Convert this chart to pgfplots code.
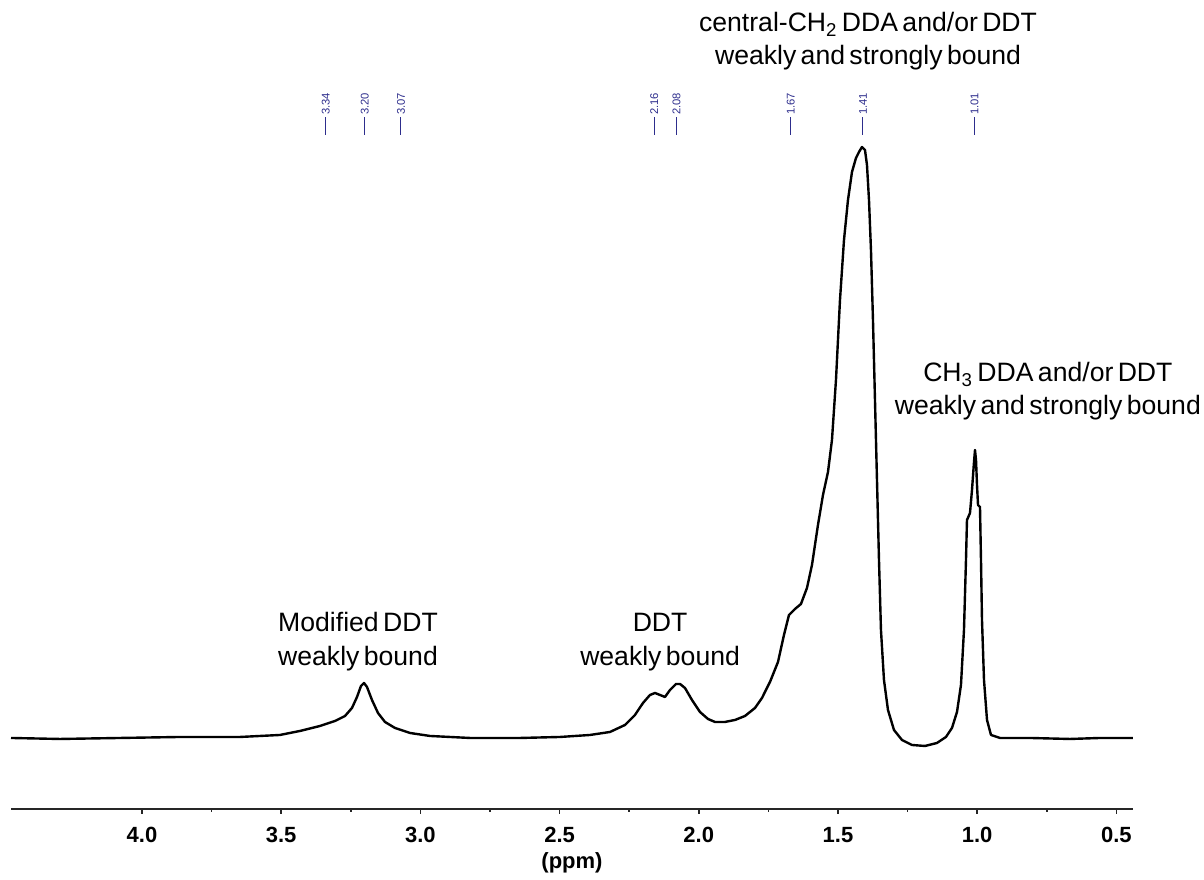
\documentclass[border=0pt]{standalone}
\usepackage{fontspec}
\setmainfont{Liberation Sans}
\usepackage{pgfplots}
\pgfplotsset{compat=1.18}
\definecolor{peakblue}{RGB}{45,45,140}
\pgfplotstableread{
x I
4.4705 71
4.2945 70
4.0790 71
3.8635 72
3.6480 72
3.5043 74
3.4325 78
3.3606 83
3.3067 88
3.2708 93
3.2457 101
3.2277 112
3.2134 123
3.2026 126
3.1918 122
3.1739 109
3.1523 96
3.1272 87
3.0913 81
3.0374 76
2.9655 73
2.8218 71
2.6422 71
2.4985 72
2.3908 74
2.3190 77
2.2651 84
2.2292 94
2.2004 106
2.1753 114
2.1573 116
2.1394 114
2.1214 112
2.1034 119
2.0819 125
2.0675 125
2.0496 121
2.0244 109
1.9957 97
1.9670 90
1.9418 87
1.9059 87
1.8700 89
1.8340 93
1.7981 101
1.7730 111
1.7443 127
1.7155 147
1.6940 174
1.6760 194
1.6545 200
1.6330 205
1.6114 221
1.5934 244
1.5719 284
1.5539 314
1.5359 337
1.5216 369
1.5072 429
1.4928 509
1.4784 569
1.4641 609
1.4497 637
1.4353 651
1.4246 657
1.4138 662
1.4030 659
1.3958 644
1.3886 609
1.3815 559
1.3743 489
1.3671 409
1.3599 329
1.3527 249
1.3456 179
1.3348 129
1.3204 99
1.2989 79
1.2701 69
1.2342 64
1.1875 63
1.1444 66
1.1121 72
1.0905 81
1.0725 97
1.0582 124
1.0474 179
1.0402 249
1.0366 289
1.0258 296
1.0186 319
1.0114 347
1.0078 359
1.0042 349
1.0006 324
0.9970 304
0.9899 302
0.9863 249
0.9827 189
0.9755 129
0.9647 89
0.9504 74
0.9178 71
0.8100 71
0.6663 70
0.5585 71
0.4404 71
}\spectrum
\newcommand{\annfont}{\fontsize{13.3}{16}\selectfont\spaceskip=2.2pt plus 0.5pt\relax}
\tikzset{peaklab/.style={rotate=90, anchor=west, text=peakblue, inner sep=0pt,
    font=\fontsize{5.6}{6}\selectfont},
  ann/.style={anchor=base, inner sep=0pt, font=\annfont}}
\newcommand{\plab}[1]{\rule[0.33em]{9pt}{0.45pt}\,#1}
\begin{document}
\begin{tikzpicture}
\begin{axis}[
  scale only axis, width=561pt, height=402pt,
  xmin=0.4404, xmax=4.4705, ymin=0, ymax=804,
  x dir=reverse,
  hide y axis,
  axis x line*=bottom,
  clip=false,
  xtick={0.5,1.0,1.5,2.0,2.5,3.0,3.5,4.0},
  minor x tick num=1,
  tick align=outside,
  major tick length=2.5pt, minor tick length=1.5pt,
  x axis line style={line width=1pt, black!85},
  tick style={line width=0.8pt, black!85},
  xticklabel style={/pgf/number format/fixed, /pgf/number format/fixed zerofill,
    /pgf/number format/precision=1, /pgf/number format/assume math mode=true,
    font=\bfseries\fontsize{11}{12}\selectfont, yshift=-3pt},
  xlabel={(ppm)},
  xlabel style={font=\bfseries\fontsize{11}{12}\selectfont, yshift=2pt},
]
\addplot[black, line width=1.2pt, line join=round] table[x=x, y=I] {\spectrum};
\path (axis cs:4.5101,-59) rectangle (axis cs:0.1853,809);
\node[peaklab] at (axis cs:3.34,674) {\plab{3.34}};
\node[peaklab] at (axis cs:3.20,674) {\plab{3.20}};
\node[peaklab] at (axis cs:3.07,674) {\plab{3.07}};
\node[peaklab] at (axis cs:2.16,674) {\plab{2.16}};
\node[peaklab] at (axis cs:2.08,674) {\plab{2.08}};
\node[peaklab] at (axis cs:1.67,674) {\plab{1.67}};
\node[peaklab] at (axis cs:1.41,674) {\plab{1.41}};
\node[peaklab] at (axis cs:1.01,674) {\plab{1.01}};
\node[ann] at (axis cs:1.392,777) {central-CH\textsubscript{2} DDA and/or DDT};
\node[ann] at (axis cs:1.392,744) {weakly and strongly bound};
\node[ann] at (axis cs:0.746,427) {CH\textsubscript{3} DDA and/or DDT};
\node[ann] at (axis cs:0.746,394) {weakly and strongly bound};
\node[ann] at (axis cs:3.224,177) {Modified DDT};
\node[ann] at (axis cs:3.224,143) {weakly bound};
\node[ann] at (axis cs:2.139,177) {DDT};
\node[ann] at (axis cs:2.139,143) {weakly bound};
\end{axis}
\end{tikzpicture}
\end{document}
